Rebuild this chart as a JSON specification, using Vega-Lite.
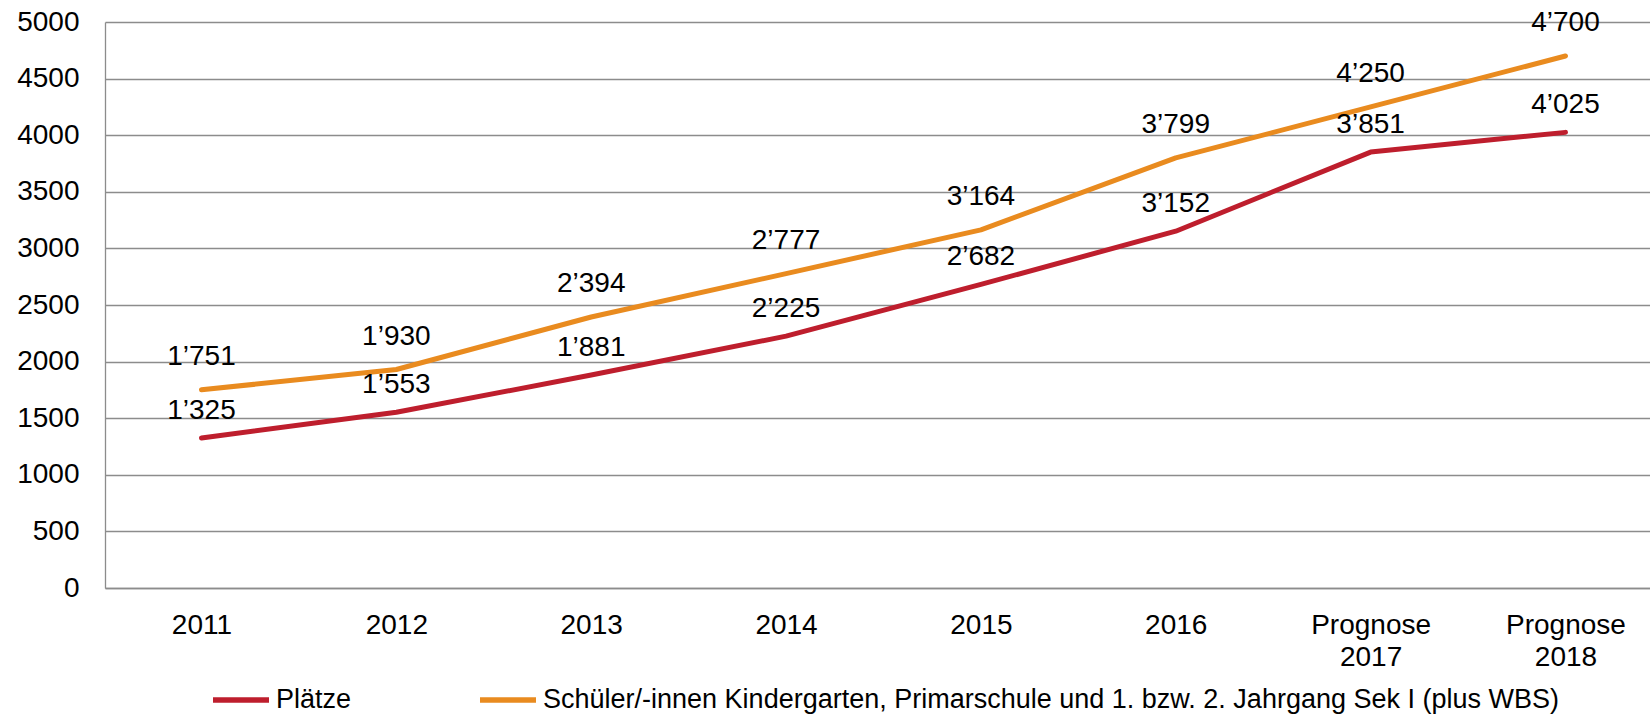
{
  "$schema": "https://vega.github.io/schema/vega-lite/v6.json",
  "width": 1545,
  "height": 566,
  "autosize": {"type": "none"},
  "padding": {"left": 105, "top": 22, "right": 0, "bottom": 128},
  "config": {
    "font": "Liberation Sans",
    "view": {"stroke": null},
    "locale": {"number": {"decimal": ".", "thousands": "’", "grouping": [3], "currency": ["", ""]}}
  },
  "data": {
    "values": [
      {"jahr": "2011", "serie": "Plätze", "wert": 1325},
      {"jahr": "2012", "serie": "Plätze", "wert": 1553},
      {"jahr": "2013", "serie": "Plätze", "wert": 1881},
      {"jahr": "2014", "serie": "Plätze", "wert": 2225},
      {"jahr": "2015", "serie": "Plätze", "wert": 2682},
      {"jahr": "2016", "serie": "Plätze", "wert": 3152},
      {"jahr": "Prognose 2017", "serie": "Plätze", "wert": 3851},
      {"jahr": "Prognose 2018", "serie": "Plätze", "wert": 4025},
      {"jahr": "2011", "serie": "Schüler/-innen Kindergarten, Primarschule und 1. bzw. 2. Jahrgang Sek I (plus WBS)", "wert": 1751},
      {"jahr": "2012", "serie": "Schüler/-innen Kindergarten, Primarschule und 1. bzw. 2. Jahrgang Sek I (plus WBS)", "wert": 1930},
      {"jahr": "2013", "serie": "Schüler/-innen Kindergarten, Primarschule und 1. bzw. 2. Jahrgang Sek I (plus WBS)", "wert": 2394},
      {"jahr": "2014", "serie": "Schüler/-innen Kindergarten, Primarschule und 1. bzw. 2. Jahrgang Sek I (plus WBS)", "wert": 2777},
      {"jahr": "2015", "serie": "Schüler/-innen Kindergarten, Primarschule und 1. bzw. 2. Jahrgang Sek I (plus WBS)", "wert": 3164},
      {"jahr": "2016", "serie": "Schüler/-innen Kindergarten, Primarschule und 1. bzw. 2. Jahrgang Sek I (plus WBS)", "wert": 3799},
      {"jahr": "Prognose 2017", "serie": "Schüler/-innen Kindergarten, Primarschule und 1. bzw. 2. Jahrgang Sek I (plus WBS)", "wert": 4250},
      {"jahr": "Prognose 2018", "serie": "Schüler/-innen Kindergarten, Primarschule und 1. bzw. 2. Jahrgang Sek I (plus WBS)", "wert": 4700}
    ]
  },
  "encoding": {
    "x": {
      "field": "jahr",
      "type": "nominal",
      "sort": null,
      "scale": {"type": "point", "padding": 0.4645, "align": 0.533},
      "axis": {
        "title": null,
        "labelAngle": 0,
        "labelExpr": "split(datum.value, ' ')",
        "labelFontSize": 28,
        "labelColor": "#000000",
        "labelLineHeight": 32,
        "labelPadding": 23,
        "ticks": false,
        "grid": false,
        "domain": true,
        "domainColor": "#8c8c8c",
        "domainWidth": 1.3
      }
    },
    "y": {
      "field": "wert",
      "type": "quantitative",
      "scale": {"domain": [0, 5000]},
      "axis": {
        "title": null,
        "values": [0, 500, 1000, 1500, 2000, 2500, 3000, 3500, 4000, 4500, 5000],
        "format": "d",
        "labelFontSize": 28,
        "labelColor": "#000000",
        "labelPadding": 26,
        "ticks": false,
        "grid": true,
        "gridColor": "#8c8c8c",
        "gridWidth": 1.3,
        "domain": true,
        "domainColor": "#8c8c8c",
        "domainWidth": 1.3
      }
    },
    "color": {
      "field": "serie",
      "type": "nominal",
      "scale": {
        "domain": ["Plätze", "Schüler/-innen Kindergarten, Primarschule und 1. bzw. 2. Jahrgang Sek I (plus WBS)"],
        "range": ["#BE1E2D", "#E98B1F"]
      },
      "legend": {
        "title": null,
        "orient": "none",
        "legendX": 105,
        "legendY": 647,
        "direction": "horizontal",
        "symbolType": "stroke",
        "symbolSize": 3136,
        "symbolStrokeWidth": 5.5,
        "labelFontSize": 27,
        "labelColor": "#000000",
        "labelOffset": 4,
        "labelLimit": 3000,
        "columnPadding": 117,
        "padding": 0
      }
    }
  },
  "layer": [
    {"mark": {"type": "line", "strokeWidth": 5, "strokeCap": "round", "strokeJoin": "round"}},
    {
      "transform": [{"filter": "datum.serie == 'Plätze'"}],
      "mark": {"type": "text", "dy": -27, "baseline": "middle", "align": "center", "fontSize": 28},
      "encoding": {
        "text": {"field": "wert", "type": "quantitative", "format": ",d"},
        "color": {"value": "#000000"}
      }
    },
    {
      "transform": [{"filter": "datum.serie != 'Plätze'"}],
      "mark": {"type": "text", "dy": -33, "baseline": "middle", "align": "center", "fontSize": 28},
      "encoding": {
        "text": {"field": "wert", "type": "quantitative", "format": ",d"},
        "color": {"value": "#000000"}
      }
    }
  ]
}
